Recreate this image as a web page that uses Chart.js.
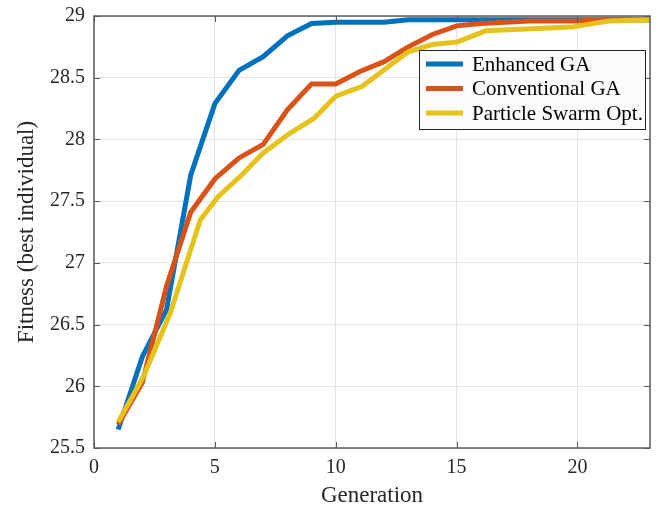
<!DOCTYPE html>
<html>
<head>
<meta charset="utf-8">
<script src="https://cdn.jsdelivr.net/npm/chart.js@4/dist/chart.umd.min.js"></script>
<style>
  html, body { margin: 0; padding: 0; background: #fff; }
  #wrap { width: 662px; height: 510px; }
</style>
</head>
<body>
<div id="wrap"><canvas id="myChart" width="662" height="510"></canvas></div>
<script>
// generations 1..23 for the two GA runs
const generations = [1,2,3,4,5,6,7,8,9,10,11,12,13,14,15,16,17,18,19,20,21,22,23]
const enhancedGA = [25.65, 26.24, 26.62, 27.71, 28.29, 28.56, 28.67, 28.84, 28.94, 28.95, 28.95, 28.95, 28.97, 28.97, 28.97, 28.97, 28.97, 28.97, 28.97, 28.97, 28.97, 28.97, 28.97]
const conventionalGA = [25.69, 26.03, 26.81, 27.41, 27.68, 27.85, 27.96, 28.24, 28.45, 28.45, 28.55, 28.63, 28.75, 28.85, 28.92, 28.94, 28.95, 28.96, 28.96, 28.96, 28.97, 28.97, 28.97]
// PSO points do not sit exactly on whole generations
const psoX = [1, 2.05, 3.15, 4.4, 5.15, 6.05, 7.0, 8.1, 9.1, 10.0, 11.1, 12.05, 13.0, 14.0, 15.05, 16.2, 19.75, 21.3, 23]
const psoY = [25.71, 26.08, 26.59, 27.35, 27.54, 27.70, 27.89, 28.05, 28.17, 28.35, 28.43, 28.57, 28.71, 28.77, 28.79, 28.88, 28.91, 28.96, 28.97]
const seriesNames = ['Enhanced GA', 'Conventional GA', 'Particle Swarm Opt.']
const xTicks = [0, 5, 10, 15, 20]
const yTicks = [25.5, 26, 26.5, 27, 27.5, 28, 28.5, 29]

const colors = ['#0072BD', '#D95319', '#E6C31B']
const serif = "'Liberation Serif', 'Times New Roman', serif"

function pairs(xs, ys){
  return xs.map((x, i) => ({x: x, y: ys[i]}))
}

// matlab style: inward ticks on all four sides + box + legend inside
const matlabBox = {
  id: 'matlabBox',
  afterDatasetsDraw(chart){
    const ctx = chart.ctx
    const a = chart.chartArea
    const xs = chart.scales.x, ys = chart.scales.y
    ctx.save()
    ctx.strokeStyle = '#5a5a5a'
    ctx.lineWidth = 1.5
    ctx.strokeRect(a.left, a.top, a.right - a.left, a.bottom - a.top)
    ctx.beginPath()
    const tl = 6
    xTicks.forEach(v => {
      const px = Math.round(xs.getPixelForValue(v)) + 0.5
      ctx.moveTo(px, a.bottom); ctx.lineTo(px, a.bottom - tl)
      ctx.moveTo(px, a.top); ctx.lineTo(px, a.top + tl)
    })
    yTicks.forEach(v => {
      const py = Math.round(ys.getPixelForValue(v)) + 0.5
      ctx.moveTo(a.left, py); ctx.lineTo(a.left + tl, py)
      ctx.moveTo(a.right, py); ctx.lineTo(a.right - tl, py)
    })
    ctx.lineWidth = 1
    ctx.stroke()

    // legend
    const lx = 419, ly = 50, lw = 226, lh = 79
    ctx.fillStyle = '#fdfbfa'
    ctx.fillRect(lx, ly, lw, lh)
    ctx.strokeStyle = '#262626'
    ctx.strokeRect(lx + 0.5, ly + 0.5, lw, lh)
    ctx.font = '21px ' + serif
    ctx.textBaseline = 'middle'
    ctx.fillStyle = '#000'
    chart.data.datasets.forEach((ds, i) => {
      const y = ly + 14 + i * 24.5
      ctx.strokeStyle = ds.borderColor
      ctx.lineWidth = 5
      ctx.beginPath()
      ctx.moveTo(426, y); ctx.lineTo(463, y)
      ctx.stroke()
      ctx.fillText(ds.label, 472, y + 1)
    })
    ctx.restore()
  }
}

const data = {
  datasets: [
    { label: seriesNames[0], data: pairs(generations, enhancedGA), borderColor: colors[0], order: 3 },
    { label: seriesNames[1], data: pairs(generations, conventionalGA), borderColor: colors[1], order: 2 },
    { label: seriesNames[2], data: pairs(psoX, psoY), borderColor: colors[2], order: 1 }
  ]
}
data.datasets.forEach(ds => {
  ds.borderWidth = 5
  ds.pointRadius = 0
  ds.tension = 0
  ds.fill = false
  ds.backgroundColor = ds.borderColor
})

const config = {
  type: 'line',
  data: data,
  options: {
    responsive: false,
    animation: false,
    layout: { padding: { top: 16, right: 12, left: 0, bottom: 0 } },
    scales: {
      x: {
        type: 'linear',
        min: 0,
        max: 23,
        afterFit: function(s){ s.height = 62; s.paddingLeft = 0; s.paddingRight = 0 },
        afterBuildTicks: function(s){ s.ticks = xTicks.map(v => ({value: v})) },
        border: { display: false },
        grid: { color: '#e3e3e3', drawTicks: false },
        ticks: { color: '#262626', padding: 8, font: { family: serif, size: 20 } },
        title: { display: true, text: 'Generation', color: '#262626', padding: { bottom: 0 }, font: { family: serif, size: 23 } }
      },
      y: {
        min: 25.5,
        max: 29,
        afterFit: function(s){ s.width = 94; s.paddingTop = 0; s.paddingBottom = 0 },
        afterBuildTicks: function(s){ s.ticks = yTicks.map(v => ({value: v})) },
        border: { display: false },
        grid: { color: '#e3e3e3', drawTicks: false },
        ticks: {
          color: '#262626', padding: 9, font: { family: serif, size: 20 },
          callback: function(v){ return String(v) }
        },
        title: { display: true, text: 'Fitness (best individual)', color: '#262626', padding: { top: 13 }, font: { family: serif, size: 23 } }
      }
    },
    plugins: {
      legend: { display: false },
      tooltip: { enabled: false }
    }
  },
  plugins: [matlabBox]
}

const myChart = new Chart(document.getElementById('myChart'), config)
</script>
</body>
</html>
